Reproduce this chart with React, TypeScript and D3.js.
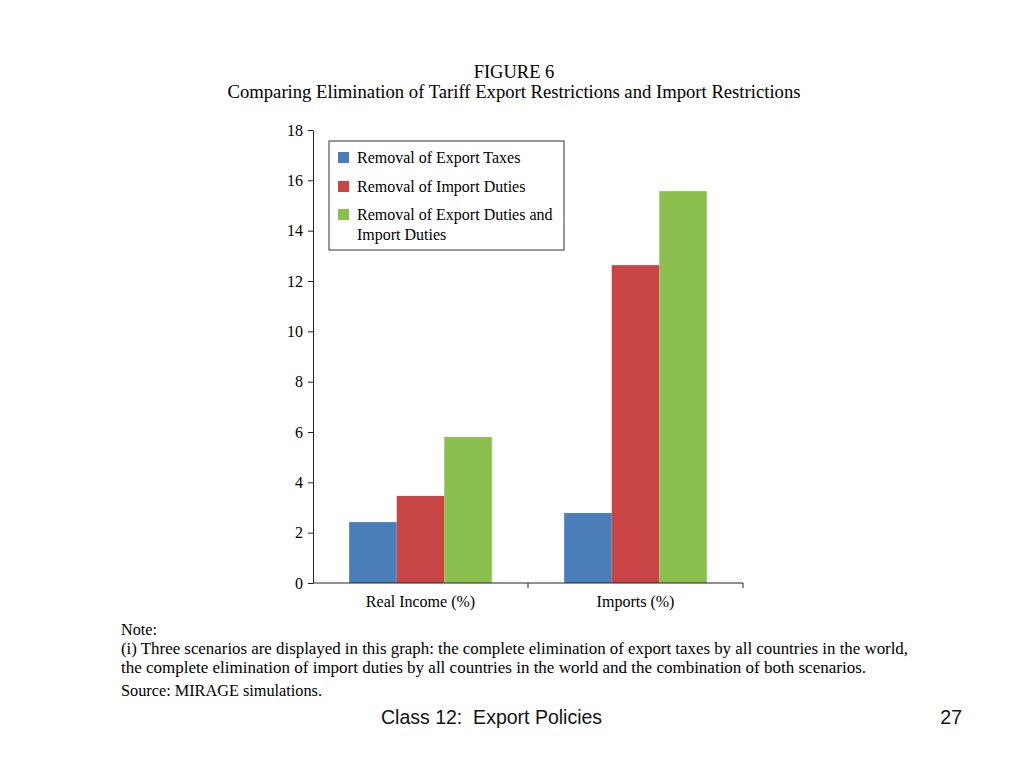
import { useEffect, useRef } from "react";
import * as d3 from "d3";

const width = 1024;
const height = 768;

const categories = ["Real Income (%)", "Imports (%)"];
const seriesNames = [
  "Removal of Export Taxes",
  "Removal of Import Duties",
  "Removal of Export Duties and Import Duties",
];
const exportTaxes = [2.42, 2.78];
const importDuties = [3.46, 12.63];
const bothRemoved = [5.8, 15.57];
const yTicks = [0, 2, 4, 6, 8, 10, 12, 14, 16, 18];
const colors = ["#4a7ebb", "#c94545", "#8cc04e"];

const noteLines = [
  "Note:",
  "(i) Three scenarios are displayed in this graph: the complete elimination of export taxes by all countries in the world,",
  "the complete elimination of import duties by all countries in the world and the combination of both scenarios.",
  "Source: MIRAGE simulations.",
];

const plot = { left: 313, right: 743, top: 130, bottom: 583 };
const serif = "'Liberation Serif', 'Times New Roman', serif";
const sans = "'Liberation Sans', Arial, sans-serif";

const App = () => {
  const yAxisRef = useRef<SVGGElement>(null);

  const xScale = d3
    .scaleBand()
    .domain(categories)
    .range([plot.left, plot.right])
    .padding(0);
  const inner = d3
    .scaleBand()
    .domain(seriesNames)
    .range([0, xScale.bandwidth()])
    .paddingOuter(0.76)
    .paddingInner(0);
  const yScale = d3
    .scaleLinear()
    .domain([0, 18])
    .range([plot.bottom, plot.top]);

  const series = [exportTaxes, importDuties, bothRemoved];

  useEffect(() => {
    if (yAxisRef.current) {
      const yAxis = d3
        .axisLeft(yScale)
        .tickValues(yTicks)
        .tickSize(5)
        .tickSizeOuter(0)
        .tickPadding(5);
      const g = d3.select(yAxisRef.current).call(yAxis);
      g.attr("font-family", serif).attr("font-size", 16);
      g.selectAll("text").attr("fill", "#000");
      g.selectAll("line,path").attr("stroke", "#222");
    }
  }, []);

  return (
    <svg width={width} height={height} style={{ position: "absolute", left: 0, top: 0 }}>
      <rect width={width} height={height} fill="#fff" />
      <text x={514} y={78} textAnchor="middle" fontFamily={serif} fontSize={18.5} fill="#000">
        FIGURE 6
      </text>
      <text x={514} y={98} textAnchor="middle" fontFamily={serif} fontSize={18.5} fill="#000"
        textLength={573} lengthAdjust="spacingAndGlyphs">
        Comparing Elimination of Tariff Export Restrictions and Import Restrictions
      </text>

      {series.map((vals, s) =>
        vals.map((v, i) => (
          <rect
            key={`${s}-${i}`}
            x={(xScale(categories[i]) ?? 0) + (inner(seriesNames[s]) ?? 0)}
            y={yScale(v)}
            width={inner.bandwidth()}
            height={yScale(0) - yScale(v)}
            fill={colors[s]}
          />
        ))
      )}

      <g ref={yAxisRef} transform={`translate(${plot.left},0)`} />
      {/* x axis */}
      <line x1={plot.left} x2={plot.right} y1={plot.bottom} y2={plot.bottom} stroke="#222" />
      {categories.map((c) => (
        <line
          key={c}
          x1={(xScale(c) ?? 0) + xScale.bandwidth()}
          x2={(xScale(c) ?? 0) + xScale.bandwidth()}
          y1={plot.bottom}
          y2={plot.bottom + 5}
          stroke="#222"
        />
      ))}
      {categories.map((c) => (
        <text
          key={c}
          x={(xScale(c) ?? 0) + xScale.bandwidth() / 2}
          y={607}
          textAnchor="middle"
          fontFamily={serif}
          fontSize={16}
          fill="#000"
        >
          {c}
        </text>
      ))}

      {/* legend */}
      <rect x={329} y={141} width={235} height={109} fill="#fff" stroke="#333" />
      {[
        { y: 158, s: 0, lines: ["Removal of Export Taxes"] },
        { y: 187, s: 1, lines: ["Removal of Import Duties"] },
        { y: 215, s: 2, lines: ["Removal of Export Duties and", "Import Duties"] },
      ].map((row) => (
        <g key={row.s}>
          <rect x={338} y={row.y - 6} width={11} height={11} fill={colors[row.s]} />
          {row.lines.map((l, k) => (
            <text key={k} x={357} y={row.y + 5 + k * 20} fontFamily={serif} fontSize={16} fill="#000">
              {l}
            </text>
          ))}
        </g>
      ))}

      {/* notes */}
      {noteLines.map((l, i) => (
        <text
          key={i}
          x={121}
          y={[635, 654, 673, 696][i]}
          fontFamily={serif}
          fontSize={16}
          fill="#000"
          textLength={[36, 787, 745, 201][i]}
          lengthAdjust="spacingAndGlyphs"
        >
          {l}
        </text>
      ))}

      <text x={381} y={724} fontFamily={sans} fontSize={19.5} fill="#111" style={{ whiteSpace: "pre" }}>
        {"Class 12:  Export Policies"}
      </text>
      <text x={962} y={724} textAnchor="end" fontFamily={sans} fontSize={19.5} fill="#111">
        27
      </text>
    </svg>
  );
};

export default App;
